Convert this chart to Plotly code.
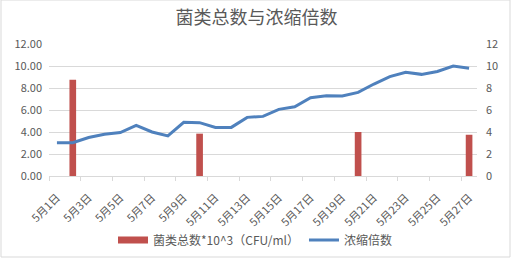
import plotly.graph_objects as go

# ---- data ----
dates = [f"5月{d}日" for d in range(1, 28)]
bacteria = [None, 8.75, None, None, None, None, None, None, None, 3.85,
            None, None, None, None, None, None, None, None, None, 4.0,
            None, None, None, None, None, None, 3.75]
concentration = [3.03, 3.03, 3.5, 3.8, 3.95, 4.6, 4.0, 3.65, 4.88, 4.85,
                 4.42, 4.42, 5.33, 5.42, 6.06, 6.3, 7.12, 7.3, 7.27, 7.6,
                 8.36, 9.03, 9.42, 9.24, 9.5, 10.0, 9.8]
y_ticks = [0, 2, 4, 6, 8, 10, 12]
title_text = "菌类总数与浓缩倍数"
bar_name = "菌类总数*10^3（CFU/ml）"
line_name = "浓缩倍数"

# ---- layout geometry ----
W, H = 513, 260
L, R, T, B = 49, 36, 44, 84
pw, ph = W - L - R, H - T - B

FONT = "Noto Sans CJK SC, Open Sans, sans-serif"
TXT = "#595959"
GRID = "#d9d9d9"
RED = "#C0504D"
BLUE = "#4F81BD"

xs = list(range(len(dates)))
label_idx = xs[::2]

fig = go.Figure()
fig.add_trace(go.Bar(x=xs, y=bacteria, name=bar_name, marker_color=RED,
                     marker_line_width=0, yaxis="y", showlegend=False,
                     legendgroup="bac"))
# legend-only entry (wide rectangular swatch like the original)
fig.add_trace(go.Scatter(x=[None], y=[None], name=bar_name, mode="lines",
                         line=dict(color=RED, width=7), legendgroup="bac",
                         hoverinfo="skip"))
fig.add_trace(go.Scatter(x=xs, y=concentration, name=line_name, mode="lines",
                         line=dict(color=BLUE, width=3), yaxis="y2"))

fig.update_layout(
    width=W, height=H, autosize=False,
    margin=dict(l=L, r=R, t=T, b=B, autoexpand=False),
    paper_bgcolor="white", plot_bgcolor="white",
    font=dict(family=FONT, color=TXT, size=11),
    title=dict(text=title_text, x=0.5, xanchor="center", xref="container",
               y=1 - 18 / H, yanchor="middle", yref="container",
               font=dict(size=18, color=TXT, family=FONT)),
    bargap=0.58,
    showlegend=True,
    legend=dict(orientation="h", x=(255 - L) / pw, xanchor="center",
                y=-(240 - T - ph) / ph, yanchor="middle",
                font=dict(size=12, color=TXT, family=FONT),
                bgcolor="rgba(0,0,0,0)", itemwidth=30),
    xaxis=dict(range=[-0.5, len(dates) - 0.5], tickmode="array",
               tickvals=label_idx, ticktext=[dates[i] for i in label_idx],
               tickangle=-45, ticks="", showgrid=False, zeroline=False,
               showline=True, linecolor=GRID, linewidth=1, automargin=False,
               ticklabelstandoff=10,
               tickfont=dict(size=11, color=TXT),
               minor=dict(tickmode="linear", tick0=-0.5, dtick=2, ticks="outside",
                          ticklen=4, tickcolor=GRID, showgrid=False)),
    yaxis=dict(range=[0, 12], tickmode="array", tickvals=y_ticks,
               tickformat=".2f", showgrid=True, gridcolor=GRID, gridwidth=1,
               zeroline=False, showline=False, ticks="", automargin=False,
               ticklabelstandoff=6, tickfont=dict(size=11, color=TXT)),
    yaxis2=dict(range=[0, 12], tickmode="array", tickvals=y_ticks,
                overlaying="y", side="right", showgrid=False, zeroline=False,
                showline=False, ticks="", ticklabelstandoff=8, automargin=False,
                tickfont=dict(size=11, color=TXT)),
    shapes=[dict(type="rect", xref="paper", yref="paper",
                 x0=(1 - L) / pw, x1=(510 - L) / pw,
                 y0=-(257 - T - ph) / ph, y1=(T + ph) / ph,
                 line=dict(color=GRID, width=1), fillcolor="rgba(0,0,0,0)",
                 layer="below")],
)

fig.write_html("out.html")
